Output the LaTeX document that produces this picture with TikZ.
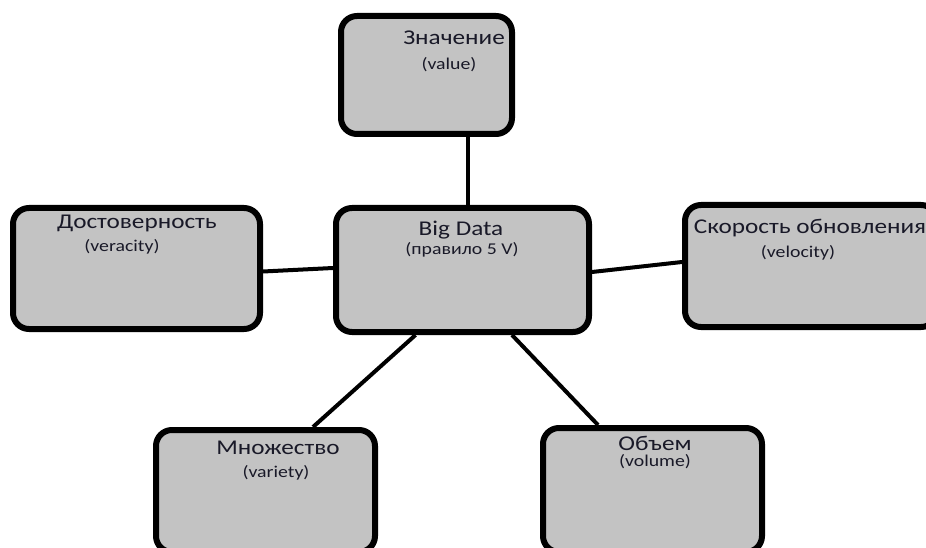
\documentclass[tikz,border=0pt]{standalone}
\usepackage{fontspec}
\setmainfont{Carlito}[FakeStretch=1.2]
\usepackage{tikz}
\definecolor{boxgray}{RGB}{195,195,195}
\definecolor{inkdark}{RGB}{25,25,40}

\tikzset{
    vbox/.style={draw, line width=6pt, rounded corners=16pt, fill=boxgray, inner sep=0pt},
    link/.style={line width=4pt},
    vtitle/.style={text=inkdark, inner sep=0pt, font=\fontsize{21}{21}\selectfont},
    vsub/.style={text=inkdark, inner sep=0pt, font=\fontsize{16.5}{16.5}\selectfont},
}

\begin{document}
\begin{tikzpicture}[x=1pt, y=-1pt]
    \useasboundingbox (0,0) rectangle (926,548);
    \clip (0,0) rectangle (926,548);

    % connectors first, boxes on top
    \node[vbox, minimum width=171pt, minimum height=118pt] (val) at (426.5,75) {};
    \node[vbox, minimum width=253pt, minimum height=124pt] (bd) at (462.5,270) {};
    \node[vbox, minimum width=247pt, minimum height=121pt] (ver) at (136.5,268.5) {};
    \node[vbox, minimum width=252pt, minimum height=122pt] (vel) at (811,266) {};
    \node[vbox, minimum width=219pt, minimum height=122pt] (mn) at (265.5,491) {};
    \node[vbox, minimum width=219pt, minimum height=124pt] (ob) at (652.5,490) {};

    \draw[link] ([xshift=41.5pt]val.south) -- ([xshift=5.5pt]bd.north);
    \draw[link] ([yshift=-3pt]ver.east) -- ([yshift=2pt]bd.west);
    \draw[link] ([yshift=-2pt]bd.east) -- ([yshift=4pt]vel.west);
    \draw[link] ([xshift=-47pt]bd.south) -- ([xshift=47.5pt]mn.north);
    \draw[link] ([xshift=49.5pt]bd.south) -- ([xshift=-54.5pt]ob.north);

    \node[vtitle] (valt) at (454,38) {Значение};
    \node[vsub] (vals) at (449,65) {(value)};
    \node[vtitle] (bdt) at (461,230) {Big Data};
    \node[vsub] (bds) at (462,250) {(правило 5 V)};
    \node[vtitle] (vert) at (137,223) {Достоверность};
    \node[vsub] (vers) at (122,247) {(veracity)};
    \node[vtitle] (velt) at (810,228) {Скорость обновления};
    \node[vsub] (vels) at (798,253) {(velocity)};
    \node[vtitle] (mnt) at (278,448) {Множество};
    \node[vsub] (mns) at (276,473) {(variety)};
    \node[vtitle] (obt) at (655,443) {Объем};
    \node[vsub] (obs) at (655,462) {(volume)};
\end{tikzpicture}
\end{document}
